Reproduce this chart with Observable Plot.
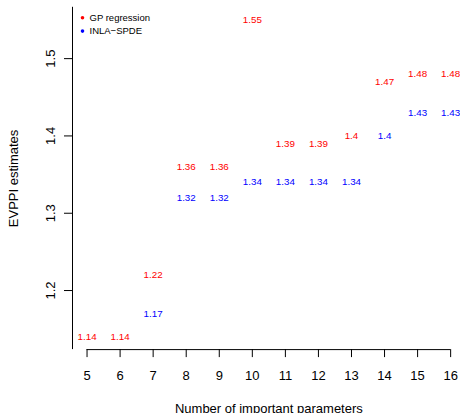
<!DOCTYPE html>
<html>
<head>
<meta charset="utf-8">
<script src="https://cdn.jsdelivr.net/npm/d3@7"></script>
<script src="https://cdn.jsdelivr.net/npm/@observablehq/plot@0.6"></script>
<style>
  html, body { margin: 0; padding: 0; background: #fff; overflow: hidden; }
  #chart svg { display: block; }
</style>
</head>
<body>
<div id="chart"></div>
<script>
// ---- data ----
const params = [5, 6, 7, 8, 9, 10, 11, 12, 13, 14, 15, 16];
const gpValues = [1.14, 1.14, 1.22, 1.36, 1.36, 1.55, 1.39, 1.39, 1.4, 1.47, 1.48, 1.48];
const inlaValues = [null, null, 1.17, 1.32, 1.32, 1.34, 1.34, 1.34, 1.34, 1.4, 1.43, 1.43];
const seriesNames = ["GP regression", "INLA\u2212SPDE"];
const seriesColors = ["red", "blue"];
const xTicks = [5, 6, 7, 8, 9, 10, 11, 12, 13, 14, 15, 16];
const yTicks = [1.2, 1.3, 1.4, 1.5];
const xTitle = "Number of important parameters";
const yTitle = "EVPPI estimates";

// ---- table ----
const rows = [];
[gpValues, inlaValues].forEach((vals, s) => {
  vals.forEach((v, i) => {
    if (v != null) rows.push({param: params[i], value: v, series: seriesNames[s]});
  });
});

// R-style 4% range extension
function extend(ext) { const d = (ext[1] - ext[0]) * 0.04; return [ext[0] - d, ext[1] + d]; }
const xDom = extend(d3.extent(params));
const yDom = extend(d3.extent(rows, d => d.value));

const font = "'Liberation Sans', Arial, Helvetica, sans-serif";

const legendMarks = seriesNames.flatMap((name, i) => [
  Plot.dot([name], {frameAnchor: "top-left", dx: 10, dy: 10.5 + i * 13.3, r: 1.8, fill: seriesColors[i], stroke: "none"}),
  Plot.text([name], {frameAnchor: "top-left", dx: 17, dy: 10.5 + i * 13.3, text: d => d, fill: "black", fontSize: 9.5, textAnchor: "start", lineAnchor: "middle"})
]);

const chart = Plot.plot({
  width: 460,
  height: 413,
  marginLeft: 72,
  marginRight: -4.7,
  marginTop: 6.8,
  marginBottom: 63.9,
  style: {fontFamily: font, background: "white", overflow: "hidden"},
  x: {domain: xDom, range: [72, 464.7]},
  y: {domain: yDom, range: [349.1, 6.8]},
  color: {domain: seriesNames, range: seriesColors},
  marks: [
    // axis lines
    Plot.ruleX([xDom[0]], {stroke: "black", strokeWidth: 1}),
    Plot.ruleY([yDom[0]], {x1: d3.min(xTicks), x2: d3.max(xTicks), stroke: "black", strokeWidth: 1}),
    // x axis
    Plot.axisX({ticks: xTicks, tickSize: 8, tickPadding: 13.5, fontSize: 13, fill: "black", stroke: "black", label: null, tickFormat: d => String(d)}),
    // y axis ticks (labels drawn rotated below)
    Plot.axisY({ticks: yTicks, tickSize: 8, tickFormat: () => "", label: null, stroke: "black"}),
    Plot.text(yTicks, {y: d => d, text: d => String(d), frameAnchor: "left", dx: -21.5, rotate: -90, textAnchor: "middle", lineAnchor: "middle", fontSize: 13, fill: "black"}),
    // titles
    Plot.text([xTitle], {frameAnchor: "bottom", dy: 63.2, text: d => d, textAnchor: "middle", lineAnchor: "bottom", fontSize: 13, fill: "black"}),
    Plot.text([yTitle], {frameAnchor: "left", dx: -59, rotate: -90, text: d => d, textAnchor: "middle", lineAnchor: "middle", fontSize: 13, fill: "black"}),
    // value labels
    Plot.text(rows, {x: "param", y: "value", text: d => String(d.value), fill: d => seriesColors[seriesNames.indexOf(d.series)], fontSize: 9.8, textAnchor: "middle", lineAnchor: "middle"}),
    ...legendMarks
  ]
});
document.getElementById("chart").appendChild(chart);
</script>
</body>
</html>
